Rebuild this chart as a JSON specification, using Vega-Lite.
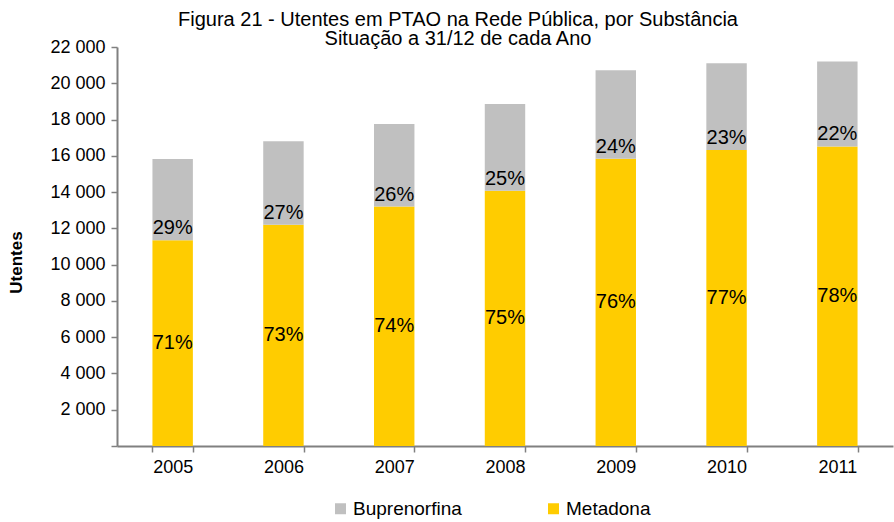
{
  "$schema": "https://vega.github.io/schema/vega-lite/v6.json",
  "width": 776,
  "height": 399,
  "autosize": {"type": "none"},
  "padding": {"left": 117, "top": 47, "right": 1, "bottom": 76},
  "background": "white",
  "config": {
    "font": "Liberation Sans",
    "view": {"stroke": null}
  },
  "title": {
    "text": ["Figura 21 - Utentes em PTAO na Rede Pública, por Substância", "Situação a 31/12 de cada Ano"],
    "fontSize": 20,
    "fontWeight": "normal",
    "lineHeight": 19,
    "color": "#000000",
    "anchor": "middle",
    "dx": -47,
    "offset": -11
  },
  "data": {
    "values": [
      {"ano": "2005", "substancia": "Metadona", "utentes": 11340, "pct": 71},
      {"ano": "2005", "substancia": "Buprenorfina", "utentes": 4480, "pct": 29},
      {"ano": "2006", "substancia": "Metadona", "utentes": 12200, "pct": 73},
      {"ano": "2006", "substancia": "Buprenorfina", "utentes": 4600, "pct": 27},
      {"ano": "2007", "substancia": "Metadona", "utentes": 13200, "pct": 74},
      {"ano": "2007", "substancia": "Buprenorfina", "utentes": 4550, "pct": 26},
      {"ano": "2008", "substancia": "Metadona", "utentes": 14070, "pct": 75},
      {"ano": "2008", "substancia": "Buprenorfina", "utentes": 4790, "pct": 25},
      {"ano": "2009", "substancia": "Metadona", "utentes": 15840, "pct": 76},
      {"ano": "2009", "substancia": "Buprenorfina", "utentes": 4880, "pct": 24},
      {"ano": "2010", "substancia": "Metadona", "utentes": 16320, "pct": 77},
      {"ano": "2010", "substancia": "Buprenorfina", "utentes": 4790, "pct": 23},
      {"ano": "2011", "substancia": "Metadona", "utentes": 16520, "pct": 78},
      {"ano": "2011", "substancia": "Buprenorfina", "utentes": 4680, "pct": 22}
    ]
  },
  "transform": [
    {"stack": "utentes", "groupby": ["ano"], "sort": [{"field": "substancia", "order": "descending"}], "as": ["y0", "y1"]},
    {"calculate": "datum.substancia === 'Metadona' ? (datum.y0 + datum.y1) / 2 : datum.y0", "as": "ylab"},
    {"calculate": "datum.pct + '%'", "as": "lab"}
  ],
  "encoding": {
    "x": {
      "field": "ano",
      "type": "nominal",
      "scale": {"paddingInner": 0.635, "paddingOuter": 0.32},
      "axis": {
        "title": null,
        "labelAngle": 0,
        "labelFontSize": 18,
        "labelColor": "#000000",
        "labelPadding": 6,
        "domainColor": "#808080",
        "domainWidth": 2,
        "tickColor": "#808080",
        "tickWidth": 1.5,
        "tickSize": 6,
        "tickBand": "extent"
      }
    },
    "y": {
      "field": "y1",
      "type": "quantitative",
      "scale": {"domain": [0, 22000], "nice": false},
      "axis": {
        "title": "Utentes",
        "titleFontSize": 17,
        "titleFontWeight": "bold",
        "titleColor": "#000000",
        "titlePadding": 24,
        "titleY": 215,
        "values": [0, 2000, 4000, 6000, 8000, 10000, 12000, 14000, 16000, 18000, 20000, 22000],
        "labelExpr": "datum.value === 0 ? '' : replace(format(datum.value, ','), ',', ' ')",
        "labelOverlap": false,
        "labelFlush": false,
        "labelFontSize": 18,
        "labelColor": "#000000",
        "labelPadding": 6,
        "grid": false,
        "domainColor": "#808080",
        "domainWidth": 2,
        "tickColor": "#808080",
        "tickWidth": 1.5,
        "tickSize": 6
      }
    }
  },
  "layer": [
    {
      "mark": {"type": "bar"},
      "encoding": {
        "y2": {"field": "y0"},
        "color": {
          "field": "substancia",
          "type": "nominal",
          "scale": {"domain": ["Buprenorfina", "Metadona"], "range": ["#C0C0C0", "#FFCC00"]},
          "legend": {
            "title": null,
            "orient": "none",
            "legendX": 214,
            "legendY": 452,
            "direction": "horizontal",
            "symbolType": "square",
            "symbolSize": 121,
            "symbolStrokeWidth": 0,
            "labelFontSize": 19,
            "labelOffset": 3,
            "labelColor": "#000000",
            "columnPadding": 82,
            "labelLimit": 300
          }
        }
      }
    },
    {
      "mark": {"type": "text", "fontSize": 20, "color": "#000000", "baseline": "middle", "align": "center"},
      "transform": [{"filter": "datum.substancia === 'Metadona'"}, {"calculate": "datum.ylab", "as": "y1"}],
      "encoding": {
        "text": {"field": "lab"}
      }
    },
    {
      "mark": {"type": "text", "fontSize": 20, "color": "#000000", "baseline": "middle", "align": "center", "dy": -12},
      "transform": [{"filter": "datum.substancia === 'Buprenorfina'"}, {"calculate": "datum.ylab", "as": "y1"}],
      "encoding": {
        "text": {"field": "lab"}
      }
    }
  ]
}
